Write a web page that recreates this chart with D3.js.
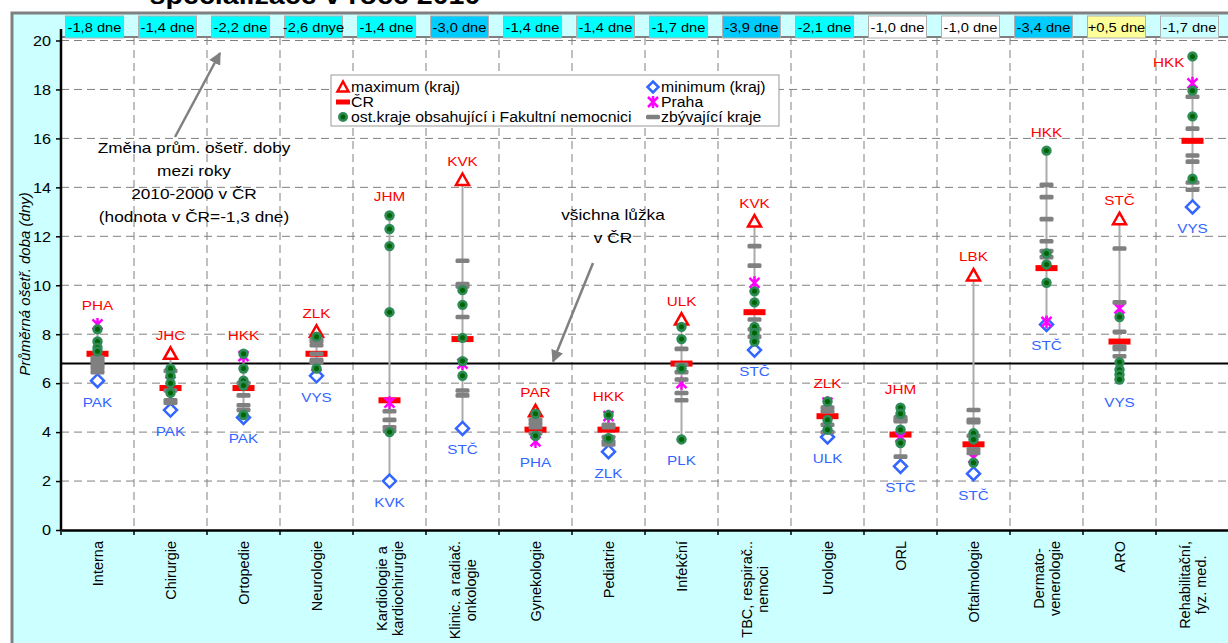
<!DOCTYPE html>
<html><head><meta charset="utf-8">
<script src="https://cdn.jsdelivr.net/npm/d3@7"></script>
<style>
html,body{margin:0;padding:0;background:#fff;}
svg{display:block;font-family:"Liberation Sans",Arial,sans-serif;}
</style></head>
<body>
<svg id="chart" width="1228" height="643"></svg>
<script>
// ---------- DATA ----------
const categories = ["Interna","Chirurgie","Ortopedie","Neurologie","Kardiologie a\nkardiochirurgie","Klinic. a radiač.\nonkologie","Gynekologie","Pediatrie","Infekční","TBC, respirač..\nnemoci","Urologie","ORL","Oftalmologie","Dermato-\nvenerologie","ARO","Rehabilitační,\nfyz. med."];
const changeLabels = ["-1,8 dne","-1,4 dne","-2,2 dne","-2,6 dnye","-1,4 dne","-3,0 dne","-1,4 dne","-1,4 dne","-1,7 dne","-3,9 dne","-2,1 dne","-1,0 dne","-1,0 dne","-3,4 dne","+0,5 dne","-1,7  dne"];
const changeGroup = ["mid","mid","mid","mid","mid","big","mid","mid","mid","big","mid","small","small","big","up","none"];
const maxVal = [8.4,7.2,7.2,8.1,12.85,14.3,4.85,4.7,8.6,12.6,5.25,5.0,10.4,15.5,12.7,19.35];
const maxReg = ["PHA","JHC","HKK","ZLK","JHM","KVK","PAR","HKK","ULK","KVK","ZLK","JHM","LBK","HKK","STČ","HKK"];
const minVal = [6.1,4.9,4.6,6.3,2.0,4.15,3.62,3.2,3.7,7.35,3.8,2.6,2.3,8.4,6.1,13.2];
const minReg = ["PAK","PAK","PAK","VYS","KVK","STČ","PHA","ZLK","PLK","STČ","ULK","STČ","STČ","STČ","VYS","VYS"];
const crVal = [7.2,5.8,5.8,7.2,5.3,7.8,4.1,4.1,6.8,8.9,4.65,3.9,3.5,10.7,7.7,15.9];
const prahaVal = [8.4,6.4,7.1,6.7,5.2,6.8,3.62,4.65,6.0,10.1,5.2,3.8,2.95,8.5,9.05,18.25];
const fnVals = [
  [8.2,7.7,7.45,7.3],
  [6.6,6.3,6.0,5.6],
  [7.2,6.6,6.1,5.9,4.7],
  [7.9,6.6],
  [12.85,12.3,11.6,8.9,4.0],
  [9.8,9.2,7.85,6.9,6.3],
  [4.75,3.85],
  [4.7,3.75],
  [8.3,7.8,6.6,3.7],
  [9.75,9.3,8.3,8.05,7.7],
  [5.25,4.5,4.1],
  [5.0,4.75,4.1,3.55],
  [3.95,3.7,2.75],
  [15.5,11.3,10.85,10.1],
  [8.7,6.85,6.55,6.35,6.15],
  [19.35,17.95,16.9,14.35]
];
const otherVals = [
  [7.05,6.95,6.85,6.7,6.6,6.45],
  [6.5,5.7,5.3,5.2],
  [6.0,5.5,5.1,4.9],
  [7.8,7.7,7.55,7.2,6.95,6.85],
  [4.85,4.5,4.2,4.05],
  [11.0,10.05,9.95,8.7,5.7,5.5],
  [4.5,4.35,4.2,3.95],
  [4.3,4.2,3.8,3.62,3.5],
  [7.4,6.75,6.45,6.15,5.6,5.3],
  [11.6,10.8,8.6,8.2,7.9],
  [5.0,4.85,4.3,4.0],
  [4.6,4.5,4.45,3.0],
  [4.9,4.5,4.4,3.85,3.3,3.15],
  [14.1,13.6,12.7,11.8,11.4,11.15],
  [11.5,9.3,8.1,7.5,7.4,7.1],
  [17.7,16.4,15.3,15.05,14.2,13.9]
];
const yTicks = [0,2,4,6,8,10,12,14,16,18,20];
const allBedsCR = 6.8;
const legendItems = ["maximum (kraj)","ČR","ost.kraje obsahující i Fakultní nemocnici","minimum (kraj)","Praha","zbývající kraje"];
const yTitle = "Průměrná ošetř. doba (dny)";
const noteChange = ["Změna prům. ošetř. doby","mezi roky","2010-2000 v ČR","(hodnota v ČR=-1,3 dne)"];
const noteBeds = ["všichna lůžka","v ČR"];
const titleText = "specializace v roce 2010";

// ---------- STYLE ----------
const groupFill = {mid:"#00FFFF", big:"#00CCFF", small:"#FFFFFF", up:"#FFFF99", none:"#CCFFFF"};
const font = '"Liberation Sans",Arial,sans-serif';
const K = 1.13; // horizontal text stretch of the original picture

function stretch(sel, k) {
  sel.each(function() {
    const l = this.getComputedTextLength();
    this.setAttribute("textLength", l * k);
    this.setAttribute("lengthAdjust", "spacingAndGlyphs");
  });
  return sel;
}

const svg = d3.select("#chart");
const W = 1228, H = 643;
const pLeft = 61, pRight = 1229, pTop = 37, pBottom = 530;

const x = d3.scaleBand().domain(categories).range([pLeft, pRight]).paddingInner(0).paddingOuter(0);
const y = d3.scaleLinear().domain([0,20]).range([pBottom, 40.5]);
const cx = c => x(c) + x.bandwidth()/2;

// title (cut off at top)
svg.append("text").attr("x", 315).attr("y", 4).attr("text-anchor","middle")
  .attr("font-weight","bold").attr("font-size", 26).attr("font-family", font).text(titleText).call(stretch, 1.1);

// outer chart area
svg.append("rect").attr("x", 12).attr("y", 13).attr("width", W).attr("height", H).attr("fill","#CCFFFF")
  .attr("stroke","#808080").attr("stroke-width",3);

// plot area
svg.append("rect").attr("x", pLeft).attr("y", pTop).attr("width", pRight-pLeft).attr("height", pBottom-pTop).attr("fill","#fff");
svg.append("line").attr("x1", pLeft).attr("x2", pRight).attr("y1", pTop).attr("y2", pTop).attr("stroke","#808080").attr("stroke-width",2);

// gridlines
const grid = svg.append("g").attr("stroke","#808080").attr("stroke-width",1).attr("stroke-dasharray","8,5");
grid.selectAll("line.h").data(yTicks.filter(v=>v>0)).join("line").attr("class","h")
  .attr("x1", pLeft).attr("x2", pRight).attr("y1", d=>y(d)).attr("y2", d=>y(d));
grid.selectAll("line.v").data(categories.slice(1)).join("line").attr("class","v")
  .attr("x1", d=>x(d)).attr("x2", d=>x(d)).attr("y1", pTop).attr("y2", pBottom);

// axes
const yAxis = svg.append("g").attr("transform",`translate(${pLeft},0)`)
  .call(d3.axisLeft(y).tickValues(yTicks).tickSize(5).tickPadding(5).tickFormat(d3.format("d")));
yAxis.select(".domain").remove();
yAxis.selectAll("line").attr("stroke","#000").attr("stroke-width",1.5);
yAxis.selectAll("text").attr("font-size",15).attr("font-family",font).attr("fill","#000").call(stretch, 1.08);
svg.append("line").attr("x1",pLeft).attr("x2",pLeft).attr("y1",pTop-8).attr("y2",pBottom).attr("stroke","#000").attr("stroke-width",2.5);

const xAxis = svg.append("g").attr("transform",`translate(0,${pBottom})`)
  .call(d3.axisBottom(x).tickSize(0).tickFormat(""));
xAxis.select(".domain").attr("stroke","#000").attr("stroke-width",2.5);
svg.append("g").selectAll("line").data(categories).join("line")
  .attr("x1", d=>x(d)).attr("x2", d=>x(d))
  .attr("y1", pBottom).attr("y2", pBottom+5).attr("stroke","#000").attr("stroke-width",1.5);

// x category labels (rotated)
categories.forEach(c => {
  const lines = c.split("\n");
  const g = svg.append("g").attr("transform", `translate(${cx(c)},541) rotate(-90)`);
  const texts = lines.map((ln,i) => g.append("text").attr("font-size",14.5).attr("font-family",font)
      .attr("text-anchor","middle").attr("y", 5 + (i - (lines.length-1)/2)*16).text(ln));
  const wmax = d3.max(texts, t => t.node().getComputedTextLength());
  texts.forEach(t => t.attr("x", -wmax/2));
});

// y title
svg.append("text").attr("transform","translate(30,284) rotate(-90)").attr("text-anchor","middle")
  .attr("font-size",15).attr("font-style","italic").attr("font-family",font).text(yTitle);

// top change boxes
const boxes = svg.append("g");
categories.forEach((c,i) => {
  const bx = cx(c) - 3;
  boxes.append("rect").attr("x", bx-29).attr("y", 16).attr("width", 58).attr("height", 22)
    .attr("fill", groupFill[changeGroup[i]]).attr("stroke","#b0b0b0").attr("stroke-width",1);
  boxes.append("text").attr("x", bx).attr("y", 32).attr("text-anchor","middle")
    .attr("font-size",13).attr("font-family",font).text(changeLabels[i]).call(stretch, K);
});

// reference line (all beds)
svg.append("line").attr("x1",pLeft).attr("x2",pRight).attr("y1",y(allBedsCR)).attr("y2",y(allBedsCR))
  .attr("stroke","#000").attr("stroke-width",2);

// markers
const triPath = "M0,-6.5L6.5,5L-6.5,5Z";
const diaPath = "M0,-6.5L6.5,0L0,6.5L-6.5,0Z";
const astPath = "M-5,-5L5,5M-5,5L5,-5M0,-6.5L0,6.5";
const near = (a, list) => list.some(v => Math.abs(v - a) < 0.06);
const marks = svg.append("g");
categories.forEach((c,i) => {
  const X = cx(c);
  const g = marks.append("g");
  const covers = fnVals[i].concat([prahaVal[i]]);
  g.append("line").attr("x1",X).attr("x2",X).attr("y1",y(minVal[i])).attr("y2",y(maxVal[i]))
    .attr("stroke","#ABABAB").attr("stroke-width",2);
  if (!near(maxVal[i], covers))
    g.append("path").attr("d",triPath).attr("transform",`translate(${X},${y(maxVal[i])})`)
      .attr("fill","#fff").attr("stroke","#FF0000").attr("stroke-width",2.5);
  if (!near(minVal[i], covers))
    g.append("path").attr("d",diaPath).attr("transform",`translate(${X},${y(minVal[i])})`)
      .attr("fill","#fff").attr("stroke","#3366FF").attr("stroke-width",2.5);
  g.append("rect").attr("x",X-11).attr("y",y(crVal[i])-3).attr("width",22).attr("height",6).attr("fill","#FF0000");
  g.append("path").attr("d",astPath).attr("transform",`translate(${X},${y(prahaVal[i])})`)
    .attr("fill","none").attr("stroke","#FF00FF").attr("stroke-width",2.5);
  otherVals[i].forEach(v => g.append("rect").attr("x",X-7).attr("y",y(v)-2.3).attr("width",14).attr("height",4.6)
    .attr("rx",1.5).attr("fill","#808080"));
  fnVals[i].forEach(v => {
    g.append("circle").attr("cx",X).attr("cy",y(v)).attr("r",5.2).attr("fill","#2E8B57");
    g.append("circle").attr("cx",X).attr("cy",y(v)).attr("r",2.5).attr("fill","#006400");
  });
  // max label: above, or to the left when there is no room under the top boxes
  const yMaxLab = y(maxVal[i]) - 14;
  const t1 = g.append("text").attr("font-size",13.5).attr("font-family",font).attr("fill","#FF0000").text(maxReg[i]);
  if (yMaxLab < pTop + 16) t1.attr("x", X - 8).attr("y", y(maxVal[i]) + 11).attr("text-anchor","end");
  else t1.attr("x", X).attr("y", yMaxLab).attr("text-anchor","middle");
  t1.call(stretch, K);
  g.append("text").attr("x",X).attr("y",y(minVal[i])+26).attr("text-anchor","middle")
    .attr("font-size",13.5).attr("font-family",font).attr("fill","#3366FF").text(minReg[i]).call(stretch, K);
});

// legend
const lg = svg.append("g");
lg.append("rect").attr("x",331).attr("y",75).attr("width",448).attr("height",51).attr("fill","#fff")
  .attr("stroke","#999").attr("stroke-width",1);
const rowsY = [87,102,117];
const colX = [343,653];
const symbols = [
  g => g.append("path").attr("d","M0,-5.5L5.5,4.5L-5.5,4.5Z").attr("fill","#fff").attr("stroke","#FF0000").attr("stroke-width",2.5),
  g => g.append("rect").attr("x",-7).attr("y",-2.5).attr("width",14).attr("height",5).attr("fill","#FF0000"),
  g => { g.append("circle").attr("r",5).attr("fill","#2E8B57"); g.append("circle").attr("r",2.4).attr("fill","#006400"); },
  g => g.append("path").attr("d","M0,-5.5L5.5,0L0,5.5L-5.5,0Z").attr("fill","#fff").attr("stroke","#3366FF").attr("stroke-width",2.5),
  g => g.append("path").attr("d","M-5,-5L5,5M-5,5L5,-5M0,-6L0,6").attr("stroke","#FF00FF").attr("stroke-width",2.5),
  g => g.append("rect").attr("x",-7).attr("y",-2.3).attr("width",14).attr("height",4.6).attr("rx",1.5).attr("fill","#808080")
];
legendItems.forEach((t,i) => {
  const col = Math.floor(i/3), row = i%3;
  const g = lg.append("g").attr("transform",`translate(${colX[col]},${rowsY[row]})`);
  symbols[i](g);
  lg.append("text").attr("x",colX[col]+8).attr("y",rowsY[row]+5).attr("font-size",14).attr("font-family",font).text(t).call(stretch, K);
});

// annotations
const defs = svg.append("defs");
defs.append("marker").attr("id","arr").attr("viewBox","0 0 10 10").attr("refX",9).attr("refY",5)
  .attr("markerWidth",5).attr("markerHeight",5).attr("orient","auto")
  .append("path").attr("d","M0,0L10,5L0,10Z").attr("fill","#808080");
svg.append("line").attr("x1",175).attr("y1",137).attr("x2",220).attr("y2",53)
  .attr("stroke","#808080").attr("stroke-width",2.5).attr("marker-end","url(#arr)");
svg.append("line").attr("x1",593).attr("y1",263).attr("x2",553).attr("y2",y(allBedsCR)-2)
  .attr("stroke","#808080").attr("stroke-width",2.5).attr("marker-end","url(#arr)");
noteChange.forEach((t,i) => svg.append("text").attr("x",194).attr("y",153 + i*23).attr("text-anchor","middle")
  .attr("font-size",15).attr("font-family",font).text(t).call(stretch, 1.15));
noteBeds.forEach((t,i) => svg.append("text").attr("x",613).attr("y",220 + i*23).attr("text-anchor","middle")
  .attr("font-size",15).attr("font-family",font).text(t).call(stretch, 1.15));
</script>
</body></html>
